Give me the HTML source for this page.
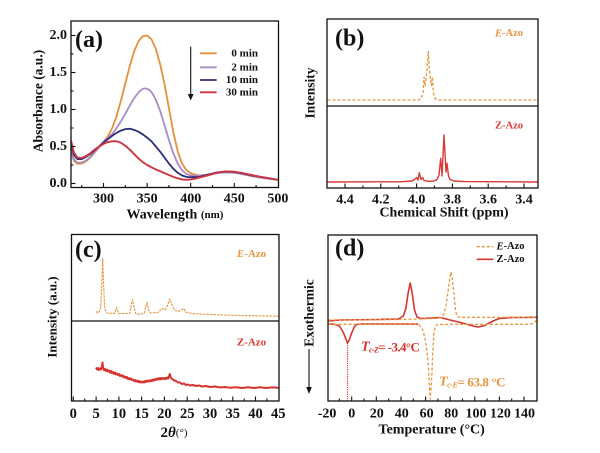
<!DOCTYPE html>
<html>
<head>
<meta charset="utf-8">
<style>
  html,body{margin:0;padding:0;background:#fff;}
  svg{display:block;}
  text{font-family:"Liberation Serif",serif;font-weight:bold;fill:#111;}
</style>
</head>
<body>
<svg width="600" height="453" viewBox="0 0 600 453" xmlns="http://www.w3.org/2000/svg">
<rect x="0" y="0" width="600" height="453" fill="#fff"/>

<!-- ================= PANEL (a) ================= -->
<g>
  <g transform="matrix(0.872,0,0,-74,-158.1,183.5)" fill="none" stroke-linejoin="round" stroke-linecap="round">
    <polyline vector-effect="non-scaling-stroke" stroke="#E98F3A" stroke-width="1.8" points="263,0.42 266,0.31 270,0.265 275,0.27 280,0.30 285,0.35 290,0.42 295,0.49 300,0.56 305,0.64 310,0.75 315,0.91 320,1.12 325,1.35 330,1.58 335,1.78 340,1.92 345,1.99 350,2.0 355,1.95 360,1.82 365,1.61 370,1.34 375,1.02 380,0.70 385,0.44 390,0.27 395,0.18 400,0.14 405,0.12 410,0.11 420,0.12 430,0.14 440,0.15 450,0.145 460,0.125 470,0.10 480,0.08 490,0.065 500,0.05"/>
    <polyline vector-effect="non-scaling-stroke" stroke="#A98CC6" stroke-width="1.8" points="263,0.46 266,0.33 270,0.28 275,0.285 280,0.31 285,0.36 290,0.43 295,0.50 300,0.56 305,0.61 310,0.67 315,0.75 320,0.84 325,0.94 330,1.05 335,1.15 340,1.23 345,1.28 348,1.285 352,1.27 356,1.22 360,1.13 365,0.98 370,0.79 375,0.59 380,0.41 385,0.27 390,0.18 395,0.13 400,0.11 405,0.105 410,0.105 420,0.12 430,0.14 440,0.15 450,0.145 460,0.125 470,0.10 480,0.08 490,0.065 500,0.05"/>
    <polyline vector-effect="non-scaling-stroke" stroke="#2C2F78" stroke-width="1.8" points="263,0.53 266,0.39 270,0.33 275,0.33 280,0.36 285,0.40 290,0.45 295,0.50 300,0.555 305,0.60 310,0.645 315,0.685 320,0.715 325,0.735 330,0.74 335,0.725 340,0.70 345,0.665 350,0.62 355,0.57 360,0.50 365,0.43 370,0.35 375,0.27 380,0.20 385,0.145 390,0.11 395,0.09 400,0.085 410,0.09 420,0.12 430,0.15 440,0.16 450,0.155 460,0.135 470,0.11 480,0.09 490,0.07 500,0.05"/>
    <polyline vector-effect="non-scaling-stroke" stroke="#CE3642" stroke-width="1.9" points="263,0.57 266,0.42 270,0.35 275,0.345 280,0.37 285,0.41 290,0.46 295,0.50 300,0.535 305,0.56 310,0.57 313,0.572 317,0.565 320,0.55 325,0.51 330,0.46 335,0.40 340,0.34 345,0.29 350,0.25 355,0.22 360,0.19 365,0.165 370,0.14 375,0.115 380,0.09 385,0.07 390,0.055 395,0.05 400,0.055 405,0.065 410,0.08 420,0.11 430,0.145 440,0.165 450,0.16 460,0.14 470,0.115 480,0.09 490,0.07 500,0.05"/>
  </g>
  <rect x="71" y="21" width="207.5" height="166.5" fill="none" stroke="#111" stroke-width="1.3"/>
  <g stroke="#111" stroke-width="1.1">
    <line x1="103.5" y1="187.5" x2="103.5" y2="183"/>
    <line x1="147.1" y1="187.5" x2="147.1" y2="183"/>
    <line x1="190.7" y1="187.5" x2="190.7" y2="183"/>
    <line x1="234.3" y1="187.5" x2="234.3" y2="183"/>
    <line x1="81.7" y1="187.5" x2="81.7" y2="185"/>
    <line x1="125.3" y1="187.5" x2="125.3" y2="185"/>
    <line x1="168.9" y1="187.5" x2="168.9" y2="185"/>
    <line x1="212.5" y1="187.5" x2="212.5" y2="185"/>
    <line x1="256.1" y1="187.5" x2="256.1" y2="185"/>
    <line x1="71" y1="35.5" x2="75.5" y2="35.5"/>
    <line x1="71" y1="72.5" x2="75.5" y2="72.5"/>
    <line x1="71" y1="109.5" x2="75.5" y2="109.5"/>
    <line x1="71" y1="146.5" x2="75.5" y2="146.5"/>
    <line x1="71" y1="183.5" x2="75.5" y2="183.5"/>
    <line x1="71" y1="54" x2="73.5" y2="54"/>
    <line x1="71" y1="91" x2="73.5" y2="91"/>
    <line x1="71" y1="128" x2="73.5" y2="128"/>
    <line x1="71" y1="165" x2="73.5" y2="165"/>
  </g>
  <g font-size="14" text-anchor="middle" dominant-baseline="central">
    <text x="103.5" y="199">300</text>
    <text x="147.1" y="199">350</text>
    <text x="190.7" y="199">400</text>
    <text x="234.3" y="199">450</text>
    <text x="277.9" y="199">500</text>
  </g>
  <g font-size="14" text-anchor="end" dominant-baseline="central">
    <text x="67" y="35.5">2.0</text>
    <text x="67" y="72.5">1.5</text>
    <text x="67" y="109.5">1.0</text>
    <text x="67" y="146.5">0.5</text>
    <text x="67" y="183.5">0.0</text>
  </g>
  <text x="175" y="215" font-size="14" text-anchor="middle" dominant-baseline="central">Wavelength <tspan font-size="11">(nm)</tspan></text>
  <text transform="translate(38,101) rotate(-90)" font-size="13.5" text-anchor="middle" dominant-baseline="central">Absorbance (a.u.)</text>
  <text x="75" y="40" font-size="24" dominant-baseline="central">(a)</text>
  <line x1="190.7" y1="46.7" x2="190.7" y2="95" stroke="#111" stroke-width="1.1"/>
  <polygon points="187.8,94 193.6,94 190.7,100.5" fill="#111"/>
  <g stroke-width="1.8">
    <line x1="200" y1="53.3" x2="216.7" y2="53.3" stroke="#E98F3A"/>
    <line x1="200" y1="67.3" x2="216.7" y2="67.3" stroke="#A98CC6"/>
    <line x1="200" y1="80" x2="216.7" y2="80" stroke="#2C2F78"/>
    <line x1="200" y1="92.3" x2="216.7" y2="92.3" stroke="#CE3642"/>
  </g>
  <g font-size="11" text-anchor="end" dominant-baseline="central">
    <text x="258" y="53.3">0 min</text>
    <text x="258" y="67.3">2 min</text>
    <text x="258" y="80">10 min</text>
    <text x="258" y="92.3">30 min</text>
  </g>
</g>

<!-- ================= PANEL (b) ================= -->
<g>
  <polyline fill="none" stroke="#E9953F" stroke-width="1.3" stroke-dasharray="3,2" points="327.5,100 418,100 421,99 423,93 424,77 425,86 426,80 427,70 428.3,51 429.5,70 430.5,80 431.5,86 432.3,77 433.5,93 435.5,99 438,100 537.5,100"/>
  <polyline fill="none" stroke="#D93A35" stroke-width="1.4" stroke-linejoin="round" points="327.5,182 400,181.8 412,181 415,179 416.7,177.5 418,180 419.3,172.7 421,179.5 422.7,177.5 424,180.5 428,181.3 434,181 437,179.5 439,175 440.7,158.3 442,176 444,135 446,172 447,163.3 448.5,176 450,179.5 454,181 465,181.6 537.5,182"/>
  <rect x="327" y="19" width="211" height="169" fill="none" stroke="#111" stroke-width="1.3"/>
  <line x1="327" y1="106" x2="538" y2="106" stroke="#111" stroke-width="1.3"/>
  <g stroke="#111" stroke-width="1.1">
    <line x1="345" y1="188" x2="345" y2="183.5"/>
    <line x1="380.8" y1="188" x2="380.8" y2="183.5"/>
    <line x1="416.6" y1="188" x2="416.6" y2="183.5"/>
    <line x1="452.4" y1="188" x2="452.4" y2="183.5"/>
    <line x1="488.2" y1="188" x2="488.2" y2="183.5"/>
    <line x1="524" y1="188" x2="524" y2="183.5"/>
    <line x1="362.9" y1="188" x2="362.9" y2="185.5"/>
    <line x1="398.7" y1="188" x2="398.7" y2="185.5"/>
    <line x1="434.5" y1="188" x2="434.5" y2="185.5"/>
    <line x1="470.3" y1="188" x2="470.3" y2="185.5"/>
    <line x1="506.1" y1="188" x2="506.1" y2="185.5"/>
  </g>
  <g font-size="14" text-anchor="middle" dominant-baseline="central">
    <text x="345" y="200">4.4</text>
    <text x="380.8" y="200">4.2</text>
    <text x="416.6" y="200">4.0</text>
    <text x="452.4" y="200">3.8</text>
    <text x="488.2" y="200">3.6</text>
    <text x="524" y="200">3.4</text>
  </g>
  <text x="444" y="213" font-size="14" text-anchor="middle" dominant-baseline="central">Chemical Shift (ppm)</text>
  <text transform="translate(310,93) rotate(-90)" font-size="13.5" text-anchor="middle" dominant-baseline="central">Intensity</text>
  <text x="335" y="38.5" font-size="24" dominant-baseline="central">(b)</text>
  <text x="509" y="33.3" font-size="10.5" text-anchor="middle" dominant-baseline="central" style="fill:#E9953F"><tspan font-style="italic">E</tspan>-Azo</text>
  <text x="509" y="126" font-size="10.5" text-anchor="middle" dominant-baseline="central" style="fill:#D93A35">Z-Azo</text>
</g>

<!-- ================= PANEL (c) ================= -->
<g>
  <polyline fill="none" stroke="#E9953F" stroke-width="1.1" stroke-dasharray="2.5,1" stroke-linejoin="round" points="96.1,311.5 98.4,313 100.6,308 102,280 102.7,258.5 103.4,280 104.7,308 106.5,313 114.3,313.5 116.6,307.5 118.4,313.5 129.8,313.5 131.6,303 132.5,299.5 133.9,306 135.7,313.5 139.4,314.5 144.4,313 146.2,305 147.1,302.5 148.5,310 150.8,313 157.6,312.5 162.1,308.5 165.3,310 167.6,305 169.9,299 171.7,304 174.4,310 178.1,311.5 180.8,310.5 183.6,308.5 185.8,312 191.8,313.5 210,314.5 232.8,315.3 255.5,315.8 278.5,316.2"/>
  <polyline fill="none" stroke="#D8322E" stroke-width="2" stroke-linejoin="round" points="96,367.5 97,369.5 98,368 99,370 100,368.5 101,369.5 102,366 102.5,362.5 103,367 104,370 105,369 106,371 107,369.5 108,371.5 109,370.5 110,372.5 111,371 112,373 113,372 114,374 115,372.5 116,374.5 117,373.5 118,375 119,374 120,376 121,375 122,376.5 123,375.5 124,377.5 125,376.5 126,378 127,377 128,379 129,378 130,379.5 131,378.5 132,380 133,379.5 134,381 135,380 136,381.5 137,380.5 138,382 139,381 140,382.5 141,381.5 142,382.5 143,381.5 144,382.5 145,381 146,382 147,380.5 148,381.5 149,380.5 150,381.5 151,380 152,381 153,379.5 154,380.5 155,379 156,380 157,378.5 158,379.5 159,378 160,379.5 161,378 162,379 163,378 164,379 165,378 166,379 167,377.5 168,378.5 169,376.5 169.8,374 170.5,377 171.5,378.5 172.5,379 174,380.5 176,381 178,382.5 180,382.5 182,384 184,383.5 186,385 188,384.5 190,385.5 193,385 196,386 199,385.5 202,386.5 206,386 210,387 215,386.5 220,387.5 225,387 230,387.8 236,387.2 242,388 248,387.3 254,388 260,387.3 266,388 272,387.4 278.5,387.8"/>
  <rect x="71.5" y="234.5" width="207.5" height="166.5" fill="none" stroke="#111" stroke-width="1.3"/>
  <line x1="71.5" y1="321" x2="279" y2="321" stroke="#111" stroke-width="1.3"/>
  <g stroke="#111" stroke-width="1.1">
    <line x1="73.3" y1="401" x2="73.3" y2="396.5"/>
    <line x1="96.1" y1="401" x2="96.1" y2="396.5"/>
    <line x1="118.9" y1="401" x2="118.9" y2="396.5"/>
    <line x1="141.6" y1="401" x2="141.6" y2="396.5"/>
    <line x1="164.4" y1="401" x2="164.4" y2="396.5"/>
    <line x1="187.2" y1="401" x2="187.2" y2="396.5"/>
    <line x1="210" y1="401" x2="210" y2="396.5"/>
    <line x1="232.8" y1="401" x2="232.8" y2="396.5"/>
    <line x1="255.5" y1="401" x2="255.5" y2="396.5"/>
    <line x1="84.7" y1="401" x2="84.7" y2="398.5"/>
    <line x1="107.5" y1="401" x2="107.5" y2="398.5"/>
    <line x1="130.3" y1="401" x2="130.3" y2="398.5"/>
    <line x1="153" y1="401" x2="153" y2="398.5"/>
    <line x1="175.8" y1="401" x2="175.8" y2="398.5"/>
    <line x1="198.6" y1="401" x2="198.6" y2="398.5"/>
    <line x1="221.4" y1="401" x2="221.4" y2="398.5"/>
    <line x1="244.2" y1="401" x2="244.2" y2="398.5"/>
    <line x1="266.9" y1="401" x2="266.9" y2="398.5"/>
  </g>
  <g font-size="14.5" text-anchor="middle" dominant-baseline="central">
    <text x="73.3" y="414">0</text>
    <text x="96.1" y="414">5</text>
    <text x="118.9" y="414">10</text>
    <text x="141.6" y="414">15</text>
    <text x="164.4" y="414">20</text>
    <text x="187.2" y="414">25</text>
    <text x="210" y="414">30</text>
    <text x="232.8" y="414">35</text>
    <text x="255.5" y="414">40</text>
    <text x="278.3" y="414">45</text>
  </g>
  <text x="174" y="433" font-size="15" text-anchor="middle" dominant-baseline="central">2<tspan font-style="italic">θ</tspan><tspan font-size="11" font-weight="normal">(°)</tspan></text>
  <text transform="translate(52,317) rotate(-90)" font-size="13" text-anchor="middle" dominant-baseline="central">Intensity (a.u.)</text>
  <text x="75" y="250" font-size="24" dominant-baseline="central">(c)</text>
  <text x="251.5" y="254" font-size="11" text-anchor="middle" dominant-baseline="central" style="fill:#E9953F"><tspan font-style="italic">E</tspan>-Azo</text>
  <text x="251.5" y="342.7" font-size="11" text-anchor="middle" dominant-baseline="central" style="fill:#D93A35">Z-Azo</text>
</g>

<!-- ================= PANEL (d) ================= -->
<g>
  <line x1="347.5" y1="343" x2="347.5" y2="401" stroke="#D93A35" stroke-width="1.2" stroke-dasharray="1.2,1"/>
  <polyline fill="none" stroke="#D3352F" stroke-width="1.6" stroke-linejoin="round" points="328.5,324 334.5,324.3 339.4,326 343.1,332 345.5,338 347.5,343 349.2,340 351.7,333 354.2,327 356.6,324.5 361.5,324 400.9,324 418,324.2"/>
  <polyline fill="none" stroke="#D3352F" stroke-width="1.6" stroke-linejoin="round" points="328.5,321 340,320 380,319.5 398.5,319 403.4,316 405.9,308 408.3,292 410.2,283 412,292 414.5,310 417,317 420.6,318.5 431.7,318 440.3,317.5 450,320 462.5,323 474.8,326.5 478.5,327 484.6,325.5 493,321 499.4,318.5 511.7,317.5 536.5,317.3"/>
  <polyline fill="none" stroke="#E9953F" stroke-width="1.3" stroke-dasharray="3,2" stroke-linejoin="round" points="328.5,320 400,319.5 435,318.5 441,317.5 444,314 446,305 448,292 449.5,280 451,272 452.5,280 454,295 455.5,310 457,316.5 460,317.3 536.5,317.3"/>
  <polyline fill="none" stroke="#E9953F" stroke-width="1.3" stroke-dasharray="3,2" stroke-linejoin="round" points="328.5,324.3 415,324.3 419,325 422,328 424.5,336 426.5,348 428.5,368 430.2,399 431.5,382 432.7,355 433.8,335 435,327 437,324.5 460,324.3 500,324.3 530,324.3 534,323 536.5,320"/>
  <rect x="328" y="235" width="209" height="166" fill="none" stroke="#111" stroke-width="1.3"/>
  <g stroke="#111" stroke-width="1.1">
    <line x1="351.7" y1="401" x2="351.7" y2="396.5"/>
    <line x1="376.3" y1="401" x2="376.3" y2="396.5"/>
    <line x1="401" y1="401" x2="401" y2="396.5"/>
    <line x1="425.6" y1="401" x2="425.6" y2="396.5"/>
    <line x1="450.2" y1="401" x2="450.2" y2="396.5"/>
    <line x1="474.8" y1="401" x2="474.8" y2="396.5"/>
    <line x1="499.4" y1="401" x2="499.4" y2="396.5"/>
    <line x1="524" y1="401" x2="524" y2="396.5"/>
    <line x1="339.4" y1="401" x2="339.4" y2="398.5"/>
    <line x1="364" y1="401" x2="364" y2="398.5"/>
    <line x1="388.6" y1="401" x2="388.6" y2="398.5"/>
    <line x1="413.3" y1="401" x2="413.3" y2="398.5"/>
    <line x1="437.9" y1="401" x2="437.9" y2="398.5"/>
    <line x1="462.5" y1="401" x2="462.5" y2="398.5"/>
    <line x1="487.1" y1="401" x2="487.1" y2="398.5"/>
    <line x1="511.7" y1="401" x2="511.7" y2="398.5"/>
  </g>
  <g font-size="14" text-anchor="middle" dominant-baseline="central">
    <text x="327.1" y="414">-20</text>
    <text x="351.7" y="414">0</text>
    <text x="376.8" y="414">20</text>
    <text x="401.8" y="414">40</text>
    <text x="426.6" y="414">60</text>
    <text x="451.2" y="414">80</text>
    <text x="476" y="414">100</text>
    <text x="500.4" y="414">120</text>
    <text x="524.5" y="414">140</text>
  </g>
  <text x="431.7" y="430" font-size="14" text-anchor="middle" dominant-baseline="central">Temperature (°C)</text>
  <text transform="translate(309,313) rotate(-90)" font-size="13.5" text-anchor="middle" dominant-baseline="central">Exothermic</text>
  <line x1="309" y1="349" x2="309" y2="388" stroke="#111" stroke-width="1.1"/>
  <polygon points="306.2,387 311.8,387 309,394" fill="#111"/>
  <text x="335" y="248.5" font-size="24" dominant-baseline="central">(d)</text>
  <line x1="476.7" y1="246.7" x2="493.3" y2="246.7" stroke="#E9953F" stroke-width="1.3" stroke-dasharray="3,2"/>
  <line x1="476.7" y1="259.3" x2="493.3" y2="259.3" stroke="#D3352F" stroke-width="1.6"/>
  <g font-size="10.5" dominant-baseline="central">
    <text x="496.5" y="246.7"><tspan font-style="italic">E</tspan>-Azo</text>
    <text x="496.5" y="259.3">Z-Azo</text>
  </g>
  <text x="361" y="346.5" font-size="13" letter-spacing="-0.6" dominant-baseline="central" style="fill:#D3352F"><tspan font-style="italic" font-size="14">T</tspan><tspan font-size="8" font-style="italic" dy="3">c-Z</tspan><tspan dy="-3">= -3.4°C</tspan></text>
  <text x="439" y="381.7" font-size="13" letter-spacing="-0.4" dominant-baseline="central" style="fill:#E9953F"><tspan font-style="italic" font-size="14">T</tspan><tspan font-size="8" font-style="italic" dy="3">c-E</tspan><tspan dy="-3">= 63.8 °C</tspan></text>
</g>
</svg>
</body>
</html>
